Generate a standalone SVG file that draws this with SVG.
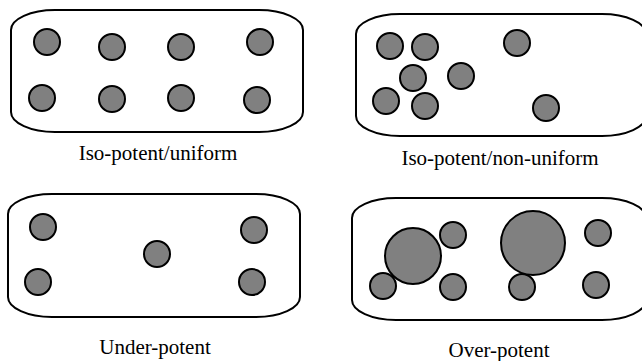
<svg xmlns="http://www.w3.org/2000/svg" width="642" height="361" viewBox="0 0 642 361">
  <style>
    .box { fill: #ffffff; stroke: #000000; stroke-width: 2; }
    .dot { fill: #808080; stroke: #000000; stroke-width: 2; }
    .label { font-family: "Liberation Serif", "Times New Roman", serif; font-size: 21px; fill: #000000; text-anchor: middle; }
  </style>
  <rect width="642" height="361" fill="#ffffff"/>

  <!-- Iso-potent / uniform -->
  <g id="iso-uniform">
    <rect class="box" x="11" y="10" width="292" height="122" rx="44" ry="20"/>
    <circle class="dot" cx="47" cy="42" r="13"/>
    <circle class="dot" cx="112" cy="47" r="13"/>
    <circle class="dot" cx="181" cy="47" r="13"/>
    <circle class="dot" cx="260" cy="42" r="13"/>
    <circle class="dot" cx="42" cy="98" r="13"/>
    <circle class="dot" cx="112" cy="99" r="13"/>
    <circle class="dot" cx="181" cy="98" r="13"/>
    <circle class="dot" cx="257" cy="100" r="13"/>
    <text class="label" x="158" y="160">Iso-potent/uniform</text>
  </g>

  <!-- Iso-potent / non-uniform -->
  <g id="iso-nonuniform">
    <rect class="box" x="356" y="14" width="290" height="122" rx="44" ry="20"/>
    <circle class="dot" cx="390" cy="46" r="13"/>
    <circle class="dot" cx="425" cy="47" r="13"/>
    <circle class="dot" cx="413" cy="78" r="13"/>
    <circle class="dot" cx="461" cy="76" r="13"/>
    <circle class="dot" cx="386" cy="101" r="13"/>
    <circle class="dot" cx="425" cy="106" r="13"/>
    <circle class="dot" cx="517" cy="43" r="13"/>
    <circle class="dot" cx="546" cy="108" r="13"/>
    <text class="label" x="500" y="165">Iso-potent/non-uniform</text>
  </g>

  <!-- Under-potent -->
  <g id="under-potent">
    <rect class="box" x="8" y="194" width="292" height="123" rx="44" ry="20"/>
    <circle class="dot" cx="43" cy="227" r="13"/>
    <circle class="dot" cx="38" cy="282" r="13"/>
    <circle class="dot" cx="157" cy="254" r="13"/>
    <circle class="dot" cx="254" cy="230" r="13"/>
    <circle class="dot" cx="252" cy="282" r="13"/>
    <text class="label" x="155" y="354">Under-potent</text>
  </g>

  <!-- Over-potent -->
  <g id="over-potent">
    <rect class="box" x="352" y="198" width="294" height="122" rx="44" ry="20"/>
    <circle class="dot" cx="453" cy="235" r="13"/>
    <circle class="dot" cx="598" cy="233" r="13"/>
    <circle class="dot" cx="383" cy="286" r="13"/>
    <circle class="dot" cx="413" cy="256" r="28"/>
    <circle class="dot" cx="453" cy="287" r="13"/>
    <circle class="dot" cx="522" cy="287" r="13"/>
    <circle class="dot" cx="533" cy="243" r="32"/>
    <circle class="dot" cx="596" cy="285" r="13"/>
    <text class="label" x="499" y="357">Over-potent</text>
  </g>
</svg>
